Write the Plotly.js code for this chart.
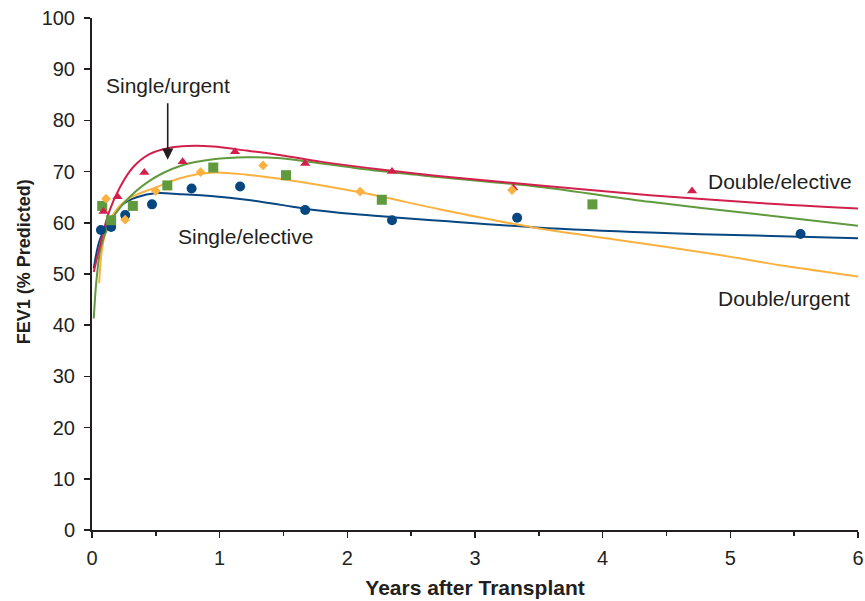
<!DOCTYPE html>
<html>
<head>
<meta charset="utf-8">
<script src="https://cdn.plot.ly/plotly-3.0.1.min.js"></script>
<style>
  html, body { margin: 0; padding: 0; background: #ffffff; }
  #chart { width: 865px; height: 601px; }
</style>
</head>
<body>
<div id="chart"></div>
<script>
// ---- Observed points ----
var dblElectiveX = [0.09, 0.20, 0.41, 0.71, 1.12, 1.67, 2.35, 3.30, 4.70];
var dblElectiveY = [62.2, 65.1, 69.8, 71.9, 73.9, 71.6, 70.0, 66.8, 66.2];

var sglUrgentX = [0.08, 0.15, 0.32, 0.59, 0.95, 1.52, 2.27, 3.92];
var sglUrgentY = [63.3, 60.5, 63.3, 67.3, 70.8, 69.3, 64.5, 63.6];

var dblUrgentX = [0.11, 0.26, 0.50, 0.85, 1.34, 2.10, 3.29];
var dblUrgentY = [64.7, 60.6, 66.2, 69.9, 71.2, 66.1, 66.4];

var sglElectiveX = [0.07, 0.15, 0.26, 0.47, 0.78, 1.16, 1.67, 2.35, 3.33, 5.55];
var sglElectiveY = [58.6, 59.2, 61.5, 63.6, 66.7, 67.1, 62.5, 60.5, 61.0, 57.8];

// ---- Fitted curves ----
var dblElectiveCurveX = [0.014, 0.06, 0.13, 0.22, 0.32, 0.45, 0.60, 0.75, 0.95, 1.21, 1.48, 1.80, 2.26, 2.73, 3.51, 4.37, 5.20, 6.0];
var dblElectiveCurveY = [50.4, 55.3, 61.9, 67.0, 70.8, 73.4, 74.6, 75.0, 74.9, 74.1, 73.2, 71.9, 70.4, 69.1, 67.3, 65.4, 63.9, 62.8];

var sglUrgentCurveX = [0.014, 0.035, 0.07, 0.14, 0.24, 0.45, 0.69, 0.95, 1.21, 1.48, 1.80, 2.26, 2.73, 3.51, 4.37, 5.20, 6.0];
var sglUrgentCurveY = [41.3, 48.8, 55.3, 59.9, 63.6, 68.2, 71.1, 72.4, 72.8, 72.6, 71.6, 70.1, 68.9, 67.0, 64.1, 61.7, 59.4];

var dblUrgentCurveX = [0.056, 0.074, 0.11, 0.19, 0.30, 0.51, 0.69, 0.95, 1.21, 1.47, 2.13, 2.73, 3.48, 4.08, 4.89, 5.42, 6.0];
var dblUrgentCurveY = [48.2, 54.0, 58.6, 62.5, 64.9, 67.0, 68.7, 69.8, 69.4, 68.6, 65.8, 62.6, 59.0, 56.8, 53.8, 51.6, 49.5];

var sglElectiveCurveX = [0.014, 0.06, 0.14, 0.24, 0.35, 0.51, 0.69, 0.95, 1.21, 1.48, 1.74, 2.05, 2.35, 2.73, 3.48, 4.37, 5.20, 6.0];
var sglElectiveCurveY = [51.1, 56.6, 60.5, 63.6, 65.0, 65.8, 65.6, 65.2, 64.5, 63.5, 62.5, 61.7, 61.1, 60.4, 59.1, 58.1, 57.5, 57.0];

var xTickVals = [0, 1, 2, 3, 4, 5, 6];
var yTickVals = [0, 10, 20, 30, 40, 50, 60, 70, 80, 90, 100];

var RED = '#d2204d', GREEN = '#5f9b3d', ORANGE = '#fbb13f', BLUE = '#064782';
var INK = '#231f20';

function curve(x, y, c) {
  return { x: x, y: y, type: 'scatter', mode: 'lines',
    line: { color: c, width: 2, shape: 'spline', smoothing: 0.9 },
    hoverinfo: 'skip', showlegend: false, cliponaxis: false };
}
function pts(x, y, c, sym, sz) {
  return { x: x, y: y, type: 'scatter', mode: 'markers',
    marker: { color: c, symbol: sym, size: sz, line: { width: 0 } },
    showlegend: false, cliponaxis: false };
}

var data = [
  curve(sglElectiveCurveX, sglElectiveCurveY, BLUE),
  curve(dblUrgentCurveX, dblUrgentCurveY, ORANGE),
  curve(sglUrgentCurveX, sglUrgentCurveY, GREEN),
  curve(dblElectiveCurveX, dblElectiveCurveY, RED),
  pts(sglElectiveX, sglElectiveY, BLUE, 'circle', 10),
  pts(sglUrgentX, sglUrgentY, GREEN, 'square', 10),
  pts(dblElectiveX, dblElectiveY, RED, 'triangle-up', 9),
  pts(dblUrgentX, dblUrgentY, ORANGE, 'diamond', 7.5)
];

var FONT = 'Liberation Sans, Arial, Helvetica, sans-serif';
var labelFont = { family: FONT, size: 21, color: INK };

var layout = {
  width: 865, height: 601,
  margin: { l: 92, r: 7, t: 18, b: 71, pad: 0 },
  paper_bgcolor: '#ffffff', plot_bgcolor: '#ffffff',
  showlegend: false,
  font: { family: FONT, color: INK },
  xaxis: {
    range: [0, 6], tickvals: xTickVals, ticktext: xTickVals.map(String),
    ticks: 'outside', ticklen: 6, tickwidth: 1.5, tickcolor: INK,
    ticklabelstandoff: 3,
    minor: { dtick: 0.5, ticks: 'outside', ticklen: 4, tickwidth: 1.5, tickcolor: INK, showgrid: false },
    showline: true, linecolor: INK, linewidth: 2,
    showgrid: false, zeroline: false, fixedrange: true,
    tickfont: { family: FONT, size: 20, color: INK },
    title: { text: 'Years after Transplant', standoff: 12,
      font: { family: FONT, size: 21, color: INK, weight: 'bold' } }
  },
  yaxis: {
    range: [0, 100], tickvals: yTickVals, ticktext: yTickVals.map(String),
    ticks: 'outside', ticklen: 6, tickwidth: 1.5, tickcolor: INK,
    ticklabelstandoff: 5,
    showline: true, linecolor: INK, linewidth: 2,
    showgrid: false, zeroline: false, fixedrange: true,
    tickfont: { family: FONT, size: 20, color: INK },
    title: { text: '' }
  },
  annotations: [
    { xref: 'paper', yref: 'y', x: 0, y: 52.3, xanchor: 'center', yanchor: 'middle',
      xshift: -68, textangle: -90, text: 'FEV1 (% Predicted)', showarrow: false,
      font: { family: FONT, size: 18, color: INK, weight: 'bold' } },
    { x: 0.593, y: 72.3, xref: 'x', yref: 'y', text: '', showarrow: true,
      ax: 0, ay: -58, arrowhead: 2, arrowsize: 1.4, arrowwidth: 1.6, arrowcolor: INK },
    { x: 0.596, y: 86.9, xref: 'x', yref: 'y', text: 'Single/urgent', showarrow: false, font: labelFont },
    { x: 5.39, y: 68.0, xref: 'x', yref: 'y', text: 'Double/elective', showarrow: false, font: labelFont },
    { x: 1.20, y: 57.4, xref: 'x', yref: 'y', text: 'Single/elective', showarrow: false, font: labelFont },
    { x: 5.42, y: 45.3, xref: 'x', yref: 'y', text: 'Double/urgent', showarrow: false, font: labelFont }
  ]
};

Plotly.newPlot('chart', data, layout, { displayModeBar: false, staticPlot: true });
</script>
</body>
</html>
